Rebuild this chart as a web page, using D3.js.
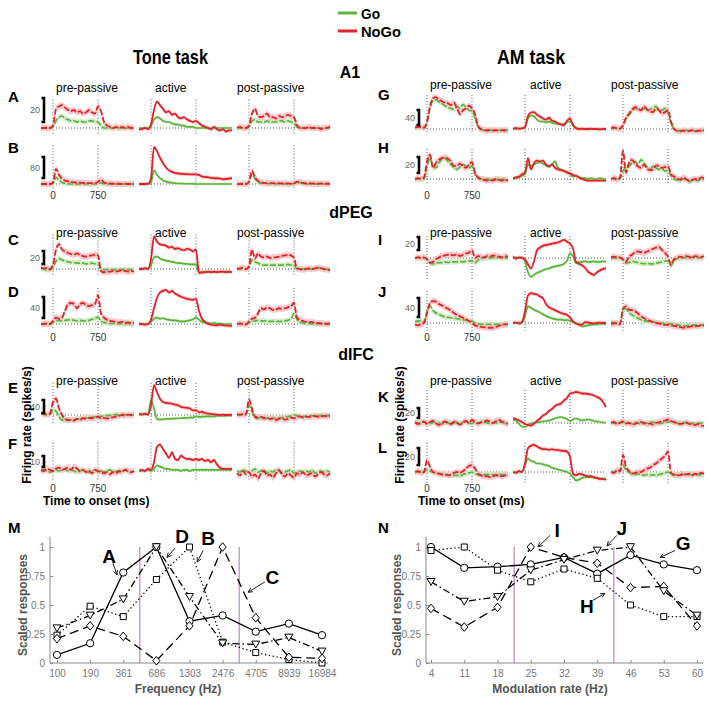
<!DOCTYPE html>
<html><head><meta charset="utf-8">
<script src="https://cdn.jsdelivr.net/npm/d3@7"></script>
<style>body{margin:0;background:#fff}svg{font-family:"Liberation Sans",Arial,sans-serif}</style>
</head><body><svg id="c" width="709" height="702"></svg>
<script>
// ---------- DATA ----------
const timeMs = [-200,-150,-100,-50,0,50,100,150,200,250,300,350,400,450,500,550,600,650,700,750,800,850,900,950,1000,1050,1100,1150,1200,1250,1300,1350];
const epochs = ["pre-passive","active","post-passive"];
const panelIds = ["A","B","C","D","E","F","G","H","I","J","K","L"];
const scaleBarValues = [20,80,20,40,40,10,40,20,20,40,20,20];
const onsetTicks = ["0","750"];
// firing rate (spikes/s re baseline), each: [pre-passive, active, post-passive]
const A_go = [[0,0,1,0,1,6,9,10, 8,7,6,6,5,6,5,5, 6,6,5,5,2,0,0,0, 0,0,0,0,0,0,0,0],
  [0,0,0,0,2,7,9,8, 6,5,5,4,3,3,2,2, 1,1,1,0,0,0,0,0, 0,0,0,0,0,0,0,0],
  [0,0,0,0,1,6,7,5, 5,5,6,5,5,5,6,6, 5,6,5,4,1,0,0,0, 0,0,0,0,0,0,0,0]];
const A_nogo = [[0,0,0,0,2,16,18,19, 17,15,14,15,13,14,12,13, 15,13,12,18,14,5,2,1, 0,1,0,1,0,1,0,0],
  [-1,-1,0,-1,3,15,22,19, 16,13,14,11,12,9,8,9, 7,6,5,6,4,2,1,0, -1,1,-1,-2,-1,-3,-2,-2],
  [0,1,0,0,2,12,16,10, 9,10,12,9,9,8,10,9, 10,11,10,9,2,0,0,0, 1,0,0,0,-1,0,0,1]];
const B_go = [[0,0,0,0,2,25,15,6, 3,1,0,0,0,0,0,0, 0,0,0,2,4,1,0,0, 0,0,0,0,0,0,0,0],
  [0,0,0,0,5,52,35,22, 14,9,6,4,3,2,2,1, 1,1,1,0,0,0,0,0, 0,0,0,0,0,0,0,0],
  [0,0,0,0,5,38,20,8, 3,2,1,1,1,1,1,1, 1,1,1,1,4,5,2,1, 0,1,0,0,0,0,0,0]];
const B_nogo = [[0,0,0,0,5,58,35,20, 13,10,8,6,5,5,4,5, 3,3,3,8,16,6,3,2, 1,1,1,0,1,0,0,0],
  [0,0,0,1,20,140,125,100, 80,63,52,46,42,40,39,38, 38,37,37,36,35,28,27,26, 23,22,22,21,18,19,21,22],
  [0,0,0,0,10,50,25,12, 6,4,3,3,3,2,3,2, 2,2,1,3,8,8,4,2, 3,2,2,1,2,1,1,0]];
const C_go = [[1,0,-2,-1,2,12,16,14, 12,11,10,10,9,9,9,8, 8,9,8,8,0,-1,-1,-1, -1,-1,-1,-1,-1,-1,-1,-1],
  [0,0,1,0,5,18,19,16, 14,13,12,11,10,9,9,8, 8,7,7,7,-6,-5,-5,-5, -4,-5,-4,-5,-4,-4,-5,-4],
  [0,0,1,0,2,14,11,9, 7,6,6,6,6,6,6,6, 6,7,6,6,0,0,0,0, 0,0,0,2,1,0,0,0]];
const C_nogo = [[2,1,2,0,6,30,38,30, 27,25,23,22,24,21,20,19, 20,21,22,21,-3,-5,-4,-4, -3,-4,-3,-2,-3,-4,-3,-4],
  [0,0,1,0,15,50,42,38, 37,36,33,34,31,32,30,29, 31,30,27,30,-6,-5,-5,-4, -5,-4,-5,-4,-4,-5,-4,-5],
  [0,1,2,0,4,30,16,24, 19,18,19,17,18,18,19,20, 21,22,21,17,1,0,-1,0, 1,0,1,2,1,0,-1,-2]];
const D_go = [[0,0,0,0,3,6,7,6, 7,8,8,7,6,7,6,6, 7,9,11,13,5,3,2,1, 1,1,0,1,0,1,0,0],
  [0,0,0,0,4,10,12,10, 11,9,8,7,7,6,5,5, 6,7,9,12,8,4,3,2, 1,2,1,1,0,0,0,0],
  [0,0,0,0,2,5,6,7, 6,6,5,5,5,5,5,5, 6,7,10,20,8,4,2,1, 1,0,1,0,0,0,0,0]];
const D_nogo = [[0,0,1,0,6,12,10,12, 25,38,40,38,30,38,40,36, 34,36,38,55,20,12,8,6, 5,4,3,4,2,3,2,2],
  [0,0,-1,0,8,30,50,60, 63,65,60,63,58,55,52,50, 48,47,46,48,25,10,4,0, -1,-2,-2,-1,-2,-3,-3,-4],
  [0,1,0,-1,5,10,12,20, 30,28,31,30,27,28,30,29, 30,32,34,40,12,8,6,4, 3,4,2,2,1,1,0,1]];
const E_go = [[3,2,0,2,15,12,-5,-15, -17,-16,-15,-14,-13,-12,-10,-9, -8,-7,-6,-5,-4,-3,-2,-1, 0,1,0,2,1,0,1,0],
  [2,1,2,1,45,20,-12,-14, -13,-12,-12,-11,-11,-10,-10,-9, -9,-8,-8,-4,-6,-5,-5,-4, -4,-4,-3,-3,-3,-2,-2,-2],
  [1,0,2,1,30,10,-8,-10, -9,-11,-10,-12,-11,-10,-9,-8, -6,-5,-3,0,-2,-6,-5,-4, -3,-2,-3,-2,-2,-1,-2,-1]];
const E_nogo = [[5,4,2,5,40,50,20,0, -12,-16,-15,-17,-12,-14,-10,-12, -9,-10,-8,-5,-10,-9,-11,-8, -7,-5,-3,0,-2,1,0,2],
  [3,2,4,2,30,92,70,50, 40,37,36,35,32,30,25,23, 22,20,14,15,8,10,6,4, 3,2,1,0,1,0,0,1],
  [2,1,3,2,48,20,-5,-8, -6,-10,-8,-12,-10,-15,-12,-10, -14,-12,-8,-10,-6,-4,-8,-5, -6,-4,-3,-6,-4,-3,-4,-2]];
const F_go = [[0,1,0,-1,0,1,0,1, 2,0,1,0,-1,0,1,0, -1,0,1,-1,0,-1,0,1, -1,0,-1,0,1,0,-1,0],
  [0,0,0,1,0,2,5,4, 3,2,2,1,1,1,0,1, 1,0,1,1,1,1,1,1, 1,1,1,1,1,1,1,1],
  [0,-1,1,0,-1,0,2,-1, 0,1,-2,0,-1,1,0,-2, -1,0,1,-2,-1,0,-1,0, -1,1,-2,-1,0,-1,0,-1]];
const F_nogo = [[1,0,2,1,0,2,3,1, 2,3,1,4,2,0,1,-1, 0,-2,1,0,-1,-2,-1,-3, -1,-2,0,-1,1,0,-1,0],
  [0,1,0,2,1,8,22,24, 20,16,12,17,11,10,14,12, 11,11,10,11,10,11,9,10, 8,10,6,3,2,2,2,2],
  [-2,-4,0,-3,-1,-5,-3,-7, -2,0,-4,-3,-6,-2,1,-3, -5,-2,-4,-6,-2,-3,-1,-4, -3,-2,-5,-3,-1,-3,-4,-2]];
const G_go = [[3,5,4,3,15,55,75,78, 72,68,62,58,55,52,60,55, 65,58,50,48,30,6,-1,-3, -2,-3,-2,-4,-3,-2,-3,-3],
  [1,1,1,1,5,28,36,34, 25,20,20,18,20,17,15,14, 12,14,18,20,12,3,1,0, 0,0,0,0,0,0,0,0],
  [1,2,1,1,8,28,38,48, 55,52,50,55,50,52,58,60, 52,50,55,45,15,0,-3,-5, -4,-3,-5,-4,-6,-4,-5,-4]];
const G_nogo = [[4,6,5,4,20,60,82,85, 78,74,70,68,64,70,55,40, 50,55,62,55,40,8,0,-3, -4,-3,-4,-3,-5,-3,-4,-4],
  [1,2,1,2,5,35,44,45, 38,33,28,25,30,22,20,15, 12,10,22,28,10,2,0,1, 0,0,1,0,0,-1,0,0],
  [2,4,2,1,10,30,40,52, 58,55,50,60,52,48,45,55, 50,42,45,50,20,0,-5,-6, -4,-6,-5,-3,-6,-5,-4,-3]];
const H_go = [[0,0,1,0,15,26,16,14, 20,25,26,22,18,14,12,15, 18,16,14,16,6,1,0,0, 0,-1,0,-1,0,0,-1,0],
  [0,1,2,4,6,18,16,18, 20,21,19,17,15,18,22,14, 12,10,9,6,3,4,2,1, 1,0,1,0,0,1,0,0],
  [0,0,1,0,10,14,16,20, 22,18,24,20,15,12,16,14, 12,13,10,11,4,0,-1,-2, 0,-1,-3,-2,-1,-2,0,-1]];
const H_nogo = [[0,1,0,2,22,30,14,20, 24,26,27,25,22,16,17,19, 16,14,18,21,8,2,0,-1, -2,-1,-2,0,-1,-2,-1,-2],
  [1,2,3,6,8,26,12,20, 23,22,23,18,16,18,14,12, 11,10,8,7,5,4,2,0, -1,-2,-2,-2,-2,-2,-2,-2],
  [0,1,-1,2,35,8,20,24, 19,16,14,18,13,11,12,17, 16,14,15,16,6,3,1,-1, 2,0,-2,-1,0,-1,2,1]];
const I_go = [[0,1,0,0,-2,-8,-9,-8, -7,-7,-6,-7,-6,-6,-6,-5, -6,-5,-5,-4,-8,-3,0,0, 1,0,1,0,1,0,0,1],
  [0,1,0,1,-5,-22,-29,-26, -23,-21,-19,-17,-16,-14,-13,-12, -11,-9,-4,7,3,-8,-6,-6, -5,-6,-6,-5,-6,-6,-5,-6],
  [0,0,1,0,-3,-8,-7,-5, -6,-7,-8,-9,-8,-9,-9,-8, -7,-6,-5,-4,-12,-4,-1,0, 1,0,0,1,0,0,1,0]];
const I_nogo = [[0,1,0,1,-2,-7,-6,-2, 1,3,4,5,5,4,6,3, 5,7,8,12,0,3,2,1, 3,2,4,3,2,1,3,2],
  [2,-1,1,0,-2,-10,-16,-5, 12,16,19,20,21,22,23,24, 26,28,25,22,15,-6,-9,-11, -15,-21,-24,-26,-22,-19,-17,-16],
  [1,2,0,1,-2,-6,2,5, 9,10,9,8,10,12,14,16, 17,12,8,2,-10,-2,0,2, 1,3,2,0,3,2,1,3]];
const J_go = [[3,4,5,2,25,36,26,21, 18,15,13,12,11,10,9,8, 7,6,5,4,0,-2,-3,-3, -3,-3,-3,-3,-3,-3,-3,-3],
  [0,0,1,1,15,35,32,28, 25,22,18,15,12,10,8,7, 7,6,6,5,2,0,-4,-7, -6,-5,-4,-3,-3,-2,-2,-2],
  [2,1,0,-1,28,30,22,17, 13,10,7,5,4,3,2,1, 0,0,-1,-1,-2,-3,-4,-5, -6,-6,-5,-5,-4,-4,-4,-4]];
const J_nogo = [[-3,-5,-2,0,20,42,46,45, 40,37,33,30,26,21,17,14, 11,8,4,0,-5,-7,-8,-9, -10,-10,-10,-8,-6,-4,-3,-3],
  [0,1,-1,2,25,58,63,61, 60,56,52,40,33,30,27,24, 21,19,17,12,3,-1,-3,-4, 2,1,0,-1,0,1,0,1],
  [-2,-1,0,-3,30,35,28,27, 25,20,14,10,7,4,2,0, -1,-3,-4,-4,-5,-6,-7,-8, -10,-9,-8,-7,-7,-6,-6,-5]];
const K_go = [[0,1,-1,2,0,-1,1,2, 0,-2,1,0,-1,2,1,0, 1,3,0,-1,1,0,2,1, 0,-1,1,0,2,1,0,1],
  [6,5,-2,-7,-8,-4,-1,0, 1,2,3,4,5,7,9,11, 12,10,8,4,7,9,7,5, 6,7,6,4,3,2,1,0],
  [1,0,-1,0,1,2,0,-1, 1,0,-2,-1,0,1,2,0, -1,0,1,2,3,1,0,-1, 0,1,-1,0,-2,-1,0,-1]];
const K_nogo = [[2,-2,0,3,-2,2,4,-1, -4,0,3,1,-2,2,0,-3, 1,4,0,6,2,-1,1,3, 5,2,0,4,6,3,0,-2],
  [9,8,5,2,-2,-4,-5,-1, 4,9,15,18,24,28,34,37, 39,45,50,59,60,62,61,59, 59,58,57,55,52,49,42,32],
  [0,2,-2,1,3,-1,0,-3, -2,1,2,0,-2,-1,-3,0, 2,3,5,7,4,2,0,-2, -1,1,-2,-3,-4,-2,-5,-6]];
const L_go = [[0,0,1,0,3,1,0,-1, -2,-2,-3,-3,-4,-4,-4,-5, -3,-2,-1,0,-2,-3,-3,-3, -3,-3,-3,-3,-3,-3,-3,-3],
  [0,0,1,0,8,16,13,12, 10,10,9,8,7,5,4,3, 2,1,0,-2,-6,-10,-9,-7, -6,-6,-6,-7,-7,-8,-8,-8],
  [0,0,1,0,8,2,0,-2, -3,-2,-3,-4,-3,-4,-3,-4, -3,-2,-1,0,-3,-4,-3,-3, -3,-3,-3,-3,-3,-3,-3,-3]];
const L_nogo = [[0,1,-1,0,14,6,0,-1, -2,-3,-3,-4,-3,-1,0,-1, 1,4,7,8,4,-2,-4,-5, -5,-6,-5,-4,-4,-5,-4,-3],
  [0,-1,1,0,10,28,31,32, 30,28,27,27,26,27,26,26, 25,25,24,18,-2,-4,-2,-3, -4,-5,-5,-6,-7,-8,-8,-9],
  [0,-1,2,1,20,6,1,-2, -1,0,0,2,4,5,8,10, 13,16,19,24,-1,-3,-4,-4, -2,-3,-2,-4,-2,-3,-1,-2]];

// tuning curves
const freqLabels = ["100","190","361","686","1303","2476","4705","8939","16984"];
const tuneA = [0.07,0.17,0.78,1.0,0.36,0.41,0.27,0.34,0.24];
const tuneB = [0.24,0.49,0.40,0.72,1.0,0.18,0.09,0.03,0.0];
const tuneC = [0.21,0.32,0.23,0.02,0.32,1.0,0.39,0.05,0.04];
const tuneD = [0.30,0.41,0.55,1.0,0.57,0.17,0.16,0.22,0.10];
const rateLabels = ["4","11","18","25","32","39","46","53","60"];
const tuneG = [1.0,0.82,0.83,0.85,0.91,0.77,0.93,0.85,0.80];
const tuneH = [0.97,1.0,0.80,0.70,0.81,0.73,0.50,0.40,0.40];
const tuneI = [0.47,0.31,0.48,1.0,0.91,0.86,0.65,0.66,0.32];
const tuneJ = [0.70,0.53,0.57,0.80,0.89,0.97,1.0,0.62,0.41];
const yTickValues = [0,0.25,0.5,0.75,1];

// ---------- DRAWING ----------
const svg = d3.select("#c");
const RED="#e2222a", GREEN="#5cb43a", PINK="#f7c6c8", LGREEN="#d3eac6";
const colOnsets=[[53,151,249],[427,525,623]];
const colBarX=[44,419];
const layout = {A:{col:0,base:128,bar:24,off:6},B:{col:0,base:184,bar:21,off:6},C:{col:0,base:269,bar:13,off:5},
  D:{col:0,base:324,bar:21,off:6},E:{col:0,base:415,bar:13,off:2},F:{col:0,base:471,bar:11,off:4},
  G:{col:1,base:129,bar:15,off:4},H:{col:1,base:179,bar:16,off:6},I:{col:1,base:258,bar:13,off:8},
  J:{col:1,base:323,bar:19,off:6},K:{col:1,base:423,bar:10,off:5},L:{col:1,base:472,bar:17,off:7}};
const dataById = {A:[A_go,A_nogo],B:[B_go,B_nogo],C:[C_go,C_nogo],D:[D_go,D_nogo],E:[E_go,E_nogo],F:[F_go,F_nogo],
  G:[G_go,G_nogo],H:[H_go,H_nogo],I:[I_go,I_nogo],J:[J_go,J_nogo],K:[K_go,K_nogo],L:[L_go,L_nogo]};

panelIds.forEach((id,pi)=>{
  const L=layout[id], [go,nogo]=dataById[id];
  const barVal=scaleBarValues[pi];
  const y=d3.scaleLinear().domain([0,barVal]).range([L.base,L.base-L.bar]);
  const all=[...go.flat(),...nogo.flat()];
  const yTop=Math.min(y(d3.max(all))-2,L.base-22), yBot=Math.max(y(d3.min(all))+3,L.base+4);
  const g=svg.append("g");
  colOnsets[L.col].forEach((ox,ei)=>{
    const x=d3.scaleLinear().domain([-200,1350]).range([ox-12,ox+81]);
    g.append("line").attr("x1",x(-200)).attr("x2",x(1350)).attr("y1",L.base).attr("y2",L.base)
      .attr("stroke","#444").attr("stroke-width",0.9).attr("stroke-dasharray","1,2");
    [0,750].forEach(t=>g.append("line").attr("x1",x(t)).attr("x2",x(t)).attr("y1",yTop).attr("y2",yBot)
      .attr("stroke","#444").attr("stroke-width",0.9).attr("stroke-dasharray","1,2"));
    const passive = ei!==1;
    const bw = passive?3.2:2;
    const band=(w)=>d3.area().x((d,i)=>x(timeMs[i])).y0(d=>y(d)+w).y1(d=>y(d)-w).curve(d3.curveMonotoneX);
    const line=d3.line().x((d,i)=>x(timeMs[i])).y(d=>y(d)).curve(d3.curveMonotoneX);
    g.append("path").attr("d",band(bw*0.8)(go[ei])).attr("fill",LGREEN).attr("opacity",0.9);
    g.append("path").attr("d",band(bw)(nogo[ei])).attr("fill",PINK).attr("opacity",0.9);
    g.append("path").attr("d",line(go[ei])).attr("fill","none").attr("stroke",GREEN).attr("stroke-width",1.7)
      .attr("stroke-dasharray",passive?"6,2":null);
    g.append("path").attr("d",line(nogo[ei])).attr("fill","none").attr("stroke",RED).attr("stroke-width",1.8)
      .attr("stroke-dasharray",passive?"6,2":null);
  });
  const bx=colBarX[L.col], b1=L.base-L.off, b0=b1-L.bar;
  g.append("path").attr("d",`M${bx-2.5},${b0}H${bx}V${b1}H${bx-2.5}`).attr("fill","none").attr("stroke","#000").attr("stroke-width",2.6);
  g.append("text").attr("x",bx-4).attr("y",(b0+b1)/2+3).attr("text-anchor","end").attr("font-size",9).attr("fill","#666").text(barVal);
});

// panel letters
const letterPos = {A:[8,102],B:[8,153],C:[8,245],D:[8,297],E:[8,393],F:[8,449],G:[378,100],H:[378,153],I:[378,245],J:[378,297],K:[378,402],L:[378,453],M:[8,533],N:[378,533]};
Object.entries(letterPos).forEach(([k,p])=>svg.append("text").attr("x",p[0]).attr("y",p[1]).attr("font-size",15).attr("font-weight","bold").text(k));

// epoch labels
const epochRowsY=[[92,237,385],[89,237,385]];
const epochX=[[56,155,237],[430,530,611]];
[0,1].forEach(c=>epochRowsY[c].forEach(yy=>epochs.forEach((e,i)=>svg.append("text").attr("x",epochX[c][i]).attr("y",yy).attr("font-size",12).text(e))));

// time ticks
[[195,0],[337,0],[488,0],[195,1],[337,1],[488,1]].forEach(([yy,c])=>{
  const ox=colOnsets[c][0];
  const x=d3.scaleLinear().domain([-200,1350]).range([ox-12,ox+81]);
  [0,750].forEach((t,i)=>svg.append("text").attr("x",x(t)).attr("y",yy+3.5).attr("text-anchor","middle").attr("font-size",10).attr("fill","#333").text(onsetTicks[i]));
});
[43,418].forEach(xx=>svg.append("text").attr("x",xx).attr("y",505).attr("font-size",12).attr("font-weight","bold").text("Time to onset (ms)"));
[27,400].forEach(xx=>svg.append("text").attr("transform",`translate(${xx},425) rotate(-90)`).attr("text-anchor","middle")
  .attr("dominant-baseline","central").attr("font-size",12).attr("font-weight","bold").text("Firing rate (spikes/s)"));

// headers (condensed bold)
svg.append("text").attr("x",133).attr("y",64).attr("font-size",21).attr("font-weight","bold")
  .attr("textLength",75).attr("lengthAdjust","spacingAndGlyphs").text("Tone task");
svg.append("text").attr("x",497).attr("y",64).attr("font-size",21).attr("font-weight","bold")
  .attr("textLength",68).attr("lengthAdjust","spacingAndGlyphs").text("AM task");
[["A1",350,78],["dPEG",351,218],["dIFC",356,360]].forEach(([t,x,y])=>svg.append("text").attr("x",x).attr("y",y).attr("text-anchor","middle").attr("font-size",16).attr("font-weight","bold").text(t));
// legend
[["Go",GREEN,13,19],["NoGo",RED,31,40]].forEach(([t,c,yy,w])=>{
  svg.append("line").attr("x1",338).attr("x2",357).attr("y1",yy).attr("y2",yy).attr("stroke",c).attr("stroke-width",3);
  svg.append("text").attr("x",361).attr("y",yy+5.5).attr("font-size",15).attr("font-weight","bold")
    .attr("textLength",w).attr("lengthAdjust","spacingAndGlyphs").text(t);
});

// ---------- tuning panels ----------
function marker(g,type,cx,cy){
  const s=g.append("path").attr("fill","#fff").attr("stroke","#000").attr("stroke-width",1).attr("transform",`translate(${cx},${cy})`);
  if(type==="circle") s.attr("d",d3.symbol(d3.symbolCircle,42)());
  if(type==="square") s.attr("d","M-3,-3H3V3H-3Z");
  if(type==="diamond") s.attr("d","M0,-4.3L3.6,0L0,4.3L-3.6,0Z");
  if(type==="tri") s.attr("d","M-4,-3.3L4,-3.3L0,3.6Z");
}
function tuning(cfg){
  const x=d3.scalePoint().domain(cfg.cats).range(cfg.xr);
  const xi=d3.scaleLinear().domain([0,cfg.cats.length-1]).range(cfg.xr);
  const y=d3.scaleLinear().domain([0,1]).range([663,547]);
  const g=svg.append("g");
  cfg.edges.forEach(e=>g.append("line").attr("x1",xi(e)).attr("x2",xi(e)).attr("y1",y(0)).attr("y2",y(1))
    .attr("stroke","#b98ab9").attr("stroke-width",1.2));
  const ya=g.append("g").attr("transform",`translate(${cfg.ax},0)`).call(d3.axisLeft(y).tickValues(yTickValues).tickFormat(d=>String(d)).tickSizeInner(-3).tickSizeOuter(0).tickPadding(5));
  const xa=g.append("g").attr("transform",`translate(0,${y(0)})`).call(d3.axisBottom(x).tickSizeInner(-3).tickSizeOuter(0).tickPadding(7));
  [ya,xa].forEach(a=>{a.select(".domain").remove();a.selectAll("line").attr("stroke","#888");
    a.selectAll("text").attr("fill","#777").attr("font-size",10).attr("font-family","'Liberation Sans',Arial");});
  g.append("line").attr("x1",cfg.ax).attr("x2",cfg.ax).attr("y1",y(1.09)).attr("y2",y(0)).attr("stroke","#888");
  g.append("line").attr("x1",cfg.ax).attr("x2",cfg.axEnd).attr("y1",y(0)).attr("y2",y(0)).attr("stroke","#888");
  const dashes=[null,"1.3,2.6","9,5","7,3,1.5,3"], marks=["circle","square","diamond","tri"];
  cfg.series.forEach((s,k)=>{
    const ln=d3.line().x((d,i)=>x(cfg.cats[i])).y(d=>y(d));
    g.append("path").attr("d",ln(s)).attr("fill","none").attr("stroke","#000").attr("stroke-width",1.3).attr("stroke-dasharray",dashes[k]);
  });
  cfg.series.forEach((s,k)=>s.forEach((v,i)=>marker(g,marks[k],x(cfg.cats[i]),y(v))));
  cfg.notes.forEach(n=>{
    g.append("text").attr("x",xi(n[1])).attr("y",y(n[2])).attr("text-anchor","middle").attr("dominant-baseline","central")
      .attr("font-size",19).attr("font-weight","bold").text(n[0]);
    const x1=xi(n[3]),y1=y(n[4]),x2=xi(n[5]),y2=y(n[6]);
    g.append("line").attr("x1",x1).attr("y1",y1).attr("x2",x2).attr("y2",y2).attr("stroke","#222").attr("stroke-width",1);
    const a=Math.atan2(y2-y1,x2-x1), h=5;
    g.append("path").attr("d",`M${x2},${y2}L${x2-h*Math.cos(a-0.45)},${y2-h*Math.sin(a-0.45)}M${x2},${y2}L${x2-h*Math.cos(a+0.45)},${y2-h*Math.sin(a+0.45)}`)
      .attr("stroke","#222").attr("fill","none").attr("stroke-width",1);
  });
  g.append("text").attr("transform",`translate(${cfg.ylx},605) rotate(-90)`).attr("text-anchor","middle").attr("dominant-baseline","central")
    .attr("font-size",12).attr("font-weight","bold").attr("fill","#555").text("Scaled responses");
  g.append("text").attr("x",cfg.xlx).attr("y",693).attr("text-anchor","middle").attr("font-size",12).attr("font-weight","bold").attr("fill","#555").text(cfg.xlabel);
}
tuning({cats:freqLabels,xr:[57,322],ax:50,axEnd:328,edges:[2.5,5.5],series:[tuneA,tuneB,tuneC,tuneD],
  notes:[["A",1.57,0.92,1.69,0.86,1.81,0.76],["D",3.78,1.09,3.56,0.99,3.32,0.91],["B",4.56,1.07,4.41,0.97,4.23,0.87],["C",6.5,0.74,6.28,0.70,5.77,0.61]],
  ylx:23,xlx:178,xlabel:"Frequency (Hz)"});
tuning({cats:rateLabels,xr:[431,697],ax:426,axEnd:703,edges:[2.5,5.5],series:[tuneG,tuneH,tuneI,tuneJ],
  notes:[["I",3.79,1.14,3.58,1.10,3.22,1.0],["J",5.74,1.16,5.59,1.10,5.29,1.01],["G",7.58,1.03,7.34,0.97,6.89,0.91],["H",4.69,0.49,4.87,0.54,5.23,0.60]],
  ylx:397,xlx:550,xlabel:"Modulation rate (Hz)"});
</script></body></html>
